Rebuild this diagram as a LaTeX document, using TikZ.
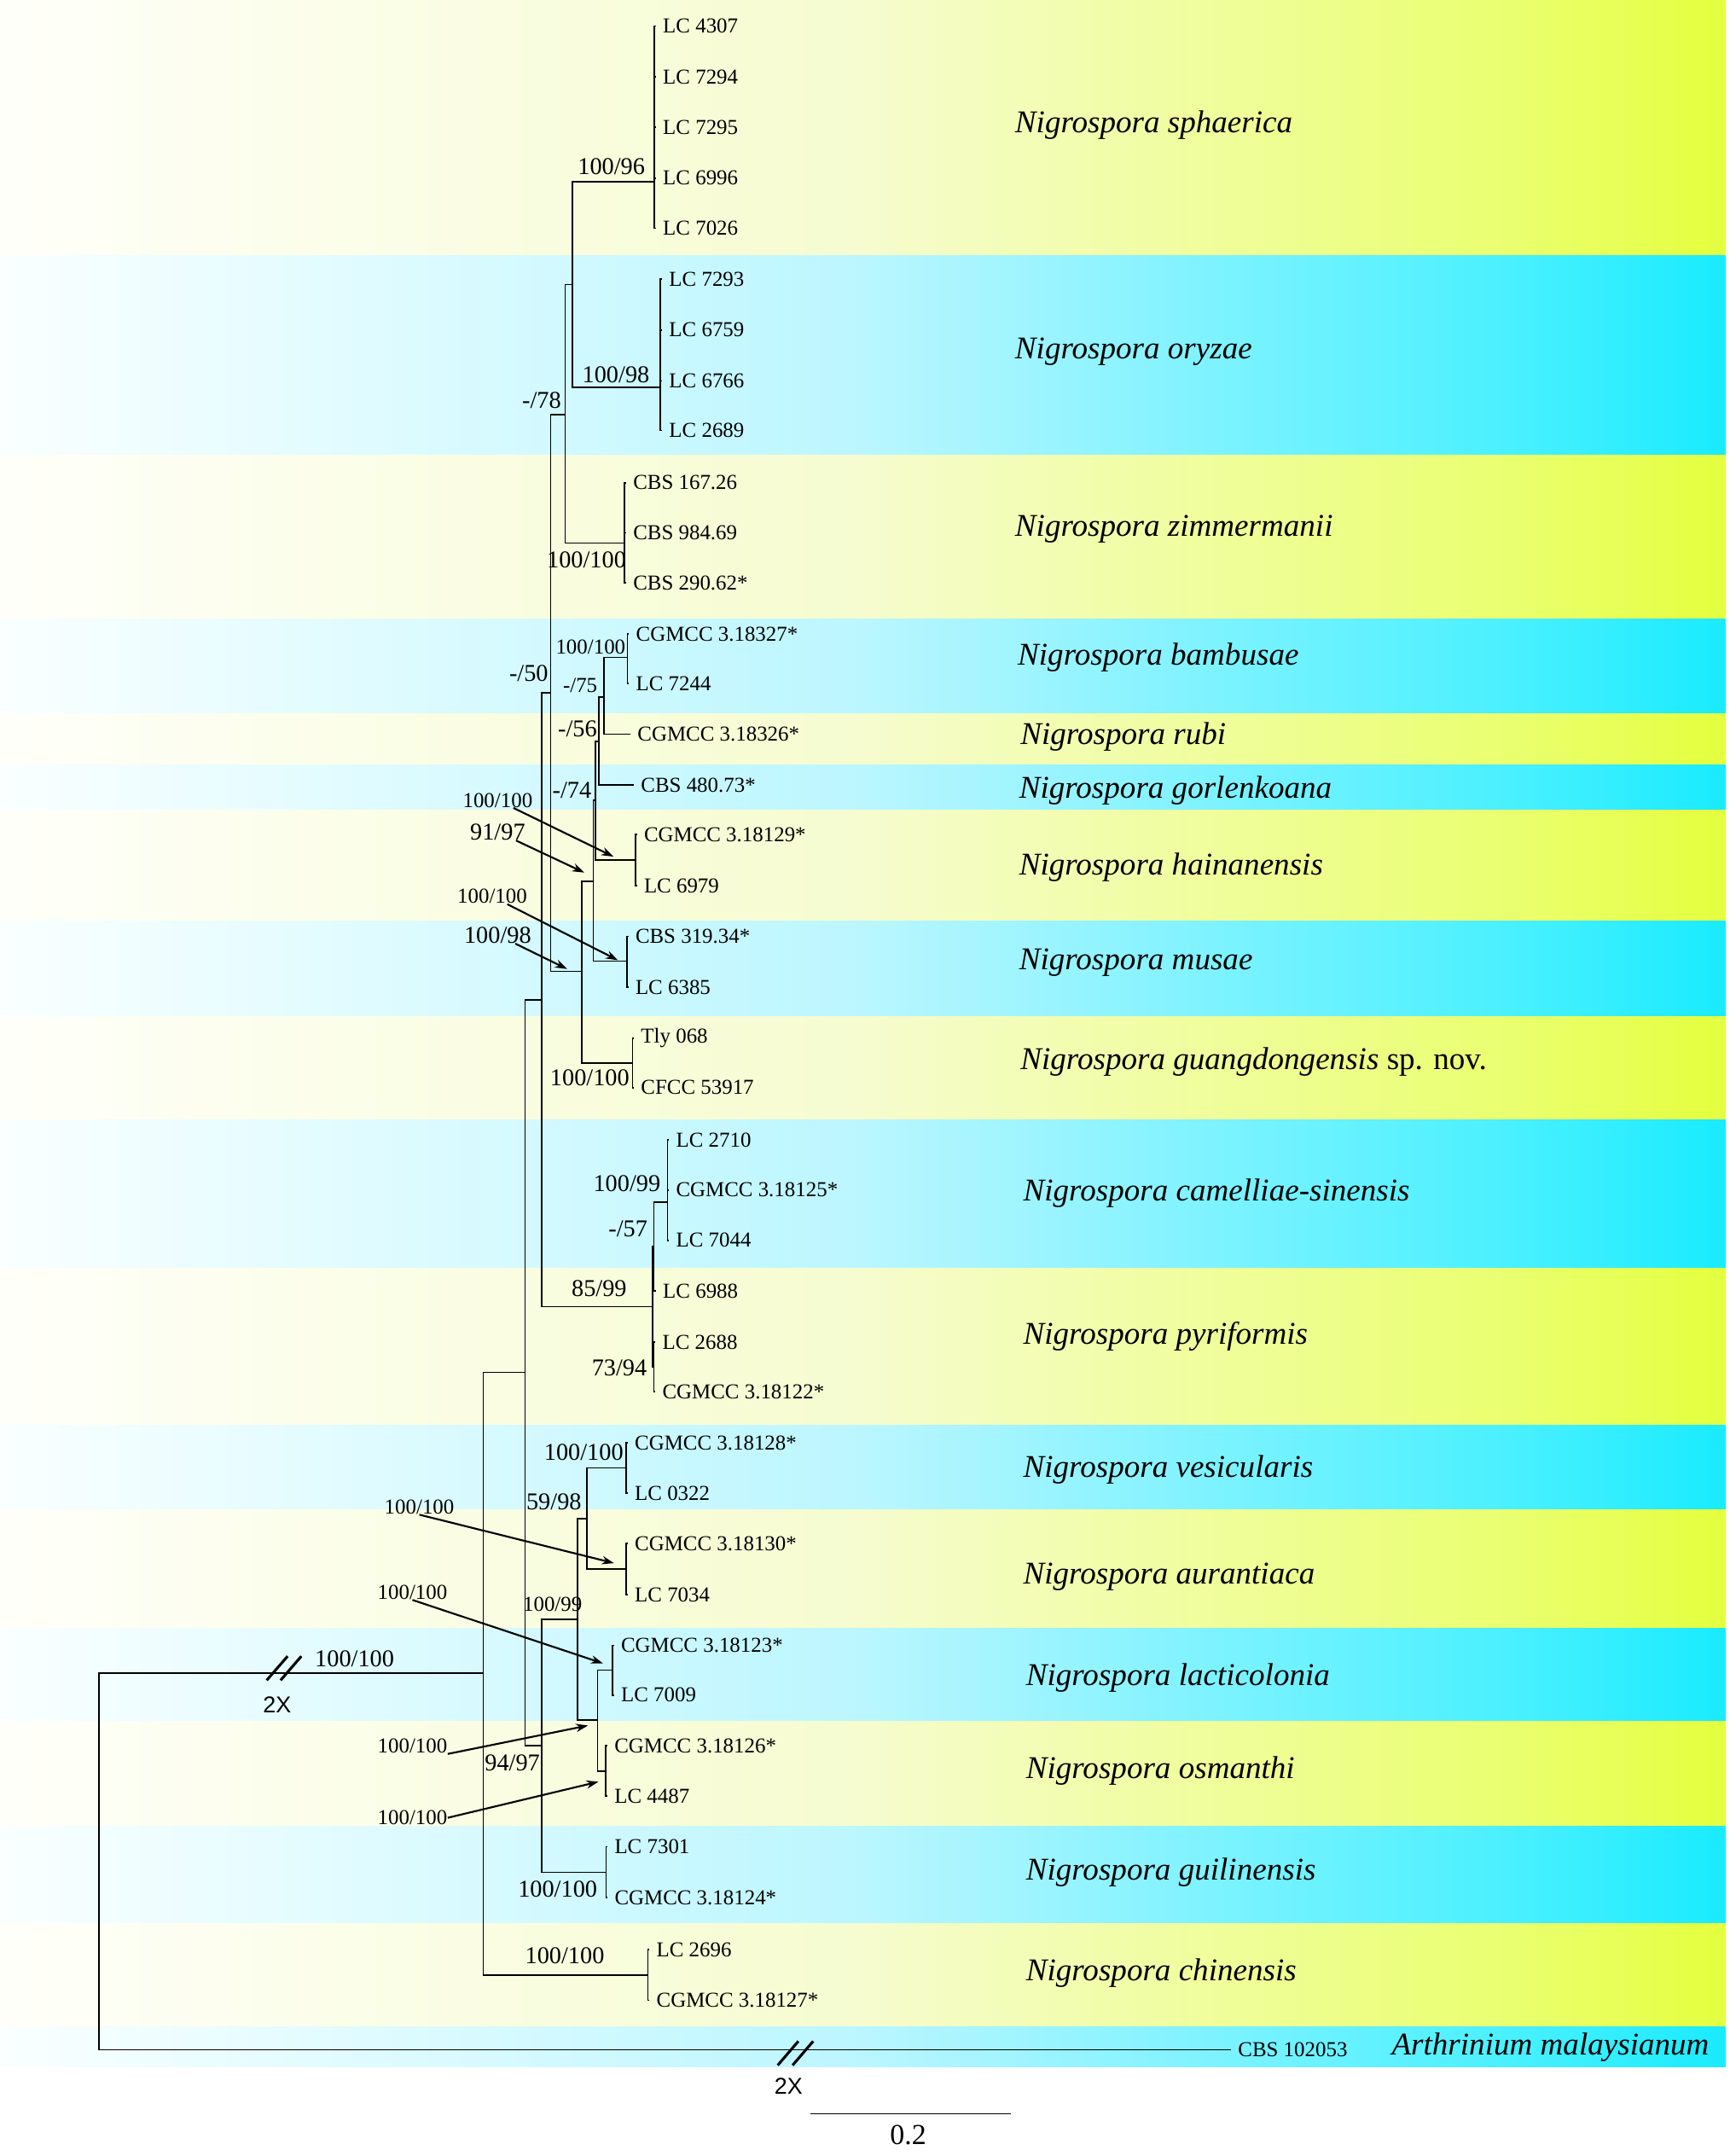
\documentclass[tikz,border=0pt]{standalone}
\usepackage{fontspec}
\setmainfont{Liberation Serif}
\setsansfont{Liberation Sans}
\usetikzlibrary{arrows.meta}
\definecolor{yl0}{RGB}{255,255,250}
\definecolor{yl1}{RGB}{246,252,208}
\definecolor{yl2}{RGB}{234,255,110}
\definecolor{yl3}{RGB}{228,255,62}
\definecolor{cy0}{RGB}{250,255,255}
\definecolor{cy1}{RGB}{188,246,255}
\definecolor{cy2}{RGB}{72,240,255}
\definecolor{cy3}{RGB}{25,235,255}

\begin{document}
\begin{tikzpicture}[x=0.02cm,y=-0.02cm,
    br/.style={line width=0.6pt},
    leaf/.style={anchor=west,inner sep=0pt,outer xsep=3pt,font=\fontsize{8.8}{10}\selectfont},
    taxon/.style={anchor=west,inner sep=0pt,font=\fontsize{13.1}{15}\selectfont\itshape},
    supp/.style={inner sep=0pt,font=\fontsize{10}{12}\selectfont},
    suppsm/.style={inner sep=0pt,font=\fontsize{8.8}{10}\selectfont},
    ptr/.style={line width=0.75pt,-{Stealth[length=5pt,width=3.4pt]}},
    brk/.style={line width=1.1pt},
    times/.style={inner sep=0pt,font=\sffamily\fontsize{9.5}{11}\selectfont}]
  \useasboundingbox (0,0) rectangle (1258,1568);
  \foreach \ya/\yb/\c in {0/186/yl,186/331/cy,331/450.2/yl,450.2/519/cy,519/556/yl,
      556/589/cy,589/670/yl,670/739.3/cy,739.3/814.4/yl,814.4/922.5/cy,922.5/1036.6/yl,
      1036.6/1098/cy,1098/1184.4/yl,1184.4/1252/cy,1252/1328.4/yl,1328.4/1398.8/cy,
      1398.8/1474/yl,1474/1503/cy}{
    \shade[left color=\c0,right color=\c1] (0,\ya) rectangle (620.5,\yb);
    \shade[left color=\c1,right color=\c2] (620,\ya) rectangle (1104.5,\yb);
    \shade[left color=\c2,right color=\c3] (1104,\ya) rectangle (1255,\yb);
  }

  \coordinate (R) at (71.8,1353.8);
  \coordinate (I) at (351.5,1216.8);
  \coordinate (A) at (382,998);
  \coordinate (B) at (394,727.3);
  \coordinate (N50) at (400.5,504);
  \coordinate (N78) at (411,301.5);
  \coordinate (SO) at (416.3,207);
  \coordinate (SPH) at (475.9,132);
  \coordinate (ORY) at (480.3,281.5);
  \coordinate (ZIM) at (454.3,395);
  \coordinate (N98) at (423,706.5);
  \coordinate (N91) at (431.5,640.8);
  \coordinate (N74) at (433.3,582);
  \coordinate (N56) at (435.5,539);
  \coordinate (N75) at (439.4,507);
  \coordinate (BAM) at (456.4,478);
  \coordinate (HAI) at (462.2,625.4);
  \coordinate (MUS) at (456,699);
  \coordinate (GUA) at (460,773);
  \coordinate (N85) at (474.6,950.2);
  \coordinate (N57) at (475.6,906.5);
  \coordinate (CAM) at (485.5,874.3);
  \coordinate (N73) at (475.6,994);
  \coordinate (G94) at (394,1269.5);
  \coordinate (N100) at (420,1177.8);
  \coordinate (N59) at (427,1104.6);
  \coordinate (VES) at (455.5,1067.5);
  \coordinate (AUR) at (455.5,1141);
  \coordinate (LO) at (434.6,1251);
  \coordinate (LAC) at (445.5,1214.6);
  \coordinate (OSM) at (440.7,1288);
  \coordinate (GUI) at (440.8,1361.6);
  \coordinate (CHI) at (471.3,1436.3);

  \foreach \p/\c in {R/I,I/A,I/CHI,A/B,A/G94,B/N50,B/N85,N50/N78,N50/N98,N78/SO,N78/ZIM,
      SO/SPH,SO/ORY,N98/N91,N98/GUA,N91/N74,N91/MUS,N74/N56,N74/HAI,N56/N75,N75/BAM,
      N85/N57,N85/N73,N57/CAM,G94/N100,G94/GUI,N100/N59,N100/LO,N59/VES,N59/AUR,
      LO/LAC,LO/OSM}
    \draw[br] (\p) |- (\c);

  \foreach \p/\x/\n/\y/\t in {SPH/477/a1/19/LC 4307,SPH/477/a2/56/LC 7294,
      SPH/477/a3/92.5/LC 7295,SPH/477/a4/129.5/LC 6996,SPH/477/a5/166/LC 7026,
      ORY/481.5/b1/203/LC 7293,ORY/481.5/b2/240/LC 6759,ORY/481.5/b3/277/LC 6766,
      ORY/481.5/b4/313/LC 2689,ZIM/455.3/c1/351/CBS 167.26,ZIM/455.3/c2/387.5/CBS 984.69,
      ZIM/455.3/c3/424/CBS 290.62*,BAM/457.4/d1/461/CGMCC 3.18327*,BAM/457.4/d2/497/LC 7244,
      N75/458.5/e1/534/CGMCC 3.18326*,N56/461/f1/571/CBS 480.73*,
      HAI/463.2/g1/607/CGMCC 3.18129*,HAI/463.2/g2/644/LC 6979,
      MUS/457/h1/681/CBS 319.34*,MUS/457/h2/718/LC 6385,
      GUA/461/i1/755/Tly 068,GUA/461/i2/791/CFCC 53917,
      CAM/486.5/j1/829/LC 2710,CAM/486.5/j2/865.5/CGMCC 3.18125*,CAM/486.5/j3/902/LC 7044,
      N57/477/k1/939/LC 6988,N73/476.6/k2/976/LC 2688,N73/476.6/k3/1012/CGMCC 3.18122*,
      VES/456.5/m1/1049.3/CGMCC 3.18128*,VES/456.5/m2/1086/LC 0322,
      AUR/456.5/n1/1122.4/CGMCC 3.18130*,AUR/456.5/n2/1159.6/LC 7034,
      LAC/446.5/o1/1196.6/CGMCC 3.18123*,LAC/446.5/o2/1232.7/LC 7009,
      OSM/441.7/p1/1269.7/CGMCC 3.18126*,OSM/441.7/p2/1306.3/LC 4487,
      GUI/441.8/q1/1343/LC 7301,GUI/441.8/q2/1380/CGMCC 3.18124*,
      CHI/472.3/r1/1418/LC 2696,CHI/472.3/r2/1454.7/CGMCC 3.18127*,
      R/895.3/out/1490.7/CBS 102053}{
    \node[leaf] (\n) at (\x,\y) {\t};
    \draw[br] (\p) |- (\n);
  }

  \node[supp] (v1) at (444.7,121.4) {100/96};
  \node[supp] (v2) at (448,272.5) {100/98};
  \node[supp] (v3) at (394,290.9) {-/78};
  \node[supp] (v4) at (426.6,407) {100/100};
  \node[suppsm] (v5) at (429.6,470.6) {100/100};
  \node[suppsm] (v6) at (422,498.8) {-/75};
  \node[supp] (v7) at (420,529.8) {-/56};
  \node[supp] (v8) at (384.6,490) {-/50};
  \node[supp] (v9) at (416,574.9) {-/74};
  \node[supp] (v10) at (429,784) {100/100};
  \node[supp] (v11) at (456,861) {100/99};
  \node[supp] (v12) at (456.8,894) {-/57};
  \node[supp] (v13) at (435.8,937) {85/99};
  \node[supp] (v14) at (450.5,994.6) {73/94};
  \node[supp] (v15) at (424.6,1056.4) {100/100};
  \node[supp] (v16) at (402.9,1092.5) {59/98};
  \node[suppsm] (v17) at (401.9,1166.7) {100/99};
  \node[supp] (v18) at (372.7,1281.9) {94/97};
  \node[supp] (v19) at (405.6,1373.9) {100/100};
  \node[supp] (v20) at (410.8,1422.6) {100/100};
  \node[supp] (v21) at (257.9,1206.6) {100/100};

  \node[suppsm] (s1) at (362,582) {100/100};
  \node[supp] (s2) at (362,605) {91/97};
  \node[suppsm] (s3) at (358,652) {100/100};
  \node[supp] (s4) at (362,680) {100/98};
  \node[suppsm] (s5) at (305,1096) {100/100};
  \node[suppsm] (s6) at (300,1158) {100/100};
  \node[suppsm] (s7) at (300,1270) {100/100};
  \node[suppsm] (s8) at (300,1322) {100/100};
  \coordinate (t1) at (446.2,623);
  \coordinate (t2) at (425,634.6);
  \coordinate (t3) at (449.4,698.3);
  \coordinate (t4) at (412.5,704.7);
  \coordinate (t5) at (446.6,1136.8);
  \coordinate (t6) at (438.6,1209.7);
  \coordinate (t7) at (427.7,1254.9);
  \coordinate (t8) at (435.3,1295.8);
  \draw[ptr] (s1) -- (t1);
  \draw[ptr] (s2) -- (t2);
  \draw[ptr] (s3) -- (t3);
  \draw[ptr] (s4) -- (t4);
  \draw[ptr] (s5.south) -- (t5);
  \draw[ptr] (s6.south) -- (t6);
  \draw[ptr] (s7.south east) -- (t7);
  \draw[ptr] (s8.east) -- (t8);

  \draw[brk] (194,1222) -- (209.2,1204.5) (204.1,1222) -- (219.2,1204.5);
  \node[times] (x1) at (201.6,1239.5) {2X};
  \draw[brk] (565.7,1502) -- (580.7,1484.5) (576.5,1502) -- (591.5,1484.5);
  \node[times] (x2) at (573.6,1517.4) {2X};

  \coordinate (sb1) at (589.7,1537.2);
  \coordinate (sb2) at (735,1537.2);
  \draw[br] (sb1) -- (sb2);
  \node[inner sep=0pt,font=\fontsize{12}{14}\selectfont] (sbl) at (660.6,1553) {0.2};

  \node[taxon] (Tsph) at (738,91) {Nigrospora sphaerica};
  \node[taxon] (Tory) at (738,256) {Nigrospora oryzae};
  \node[taxon] (Tzim) at (738,385) {Nigrospora zimmermanii};
  \node[taxon] (Tbam) at (740,478) {Nigrospora bambusae};
  \node[taxon] (Trub) at (742,536) {Nigrospora rubi};
  \node[taxon] (Tgor) at (741,575) {Nigrospora gorlenkoana};
  \node[taxon] (Thai) at (741,631) {Nigrospora hainanensis};
  \node[taxon] (Tmus) at (741,700) {Nigrospora musae};
  \node[taxon] (Tgua) at (742,772) {Nigrospora guangdongensis \upshape sp. nov.};
  \node[taxon] (Tcam) at (744,868) {Nigrospora camelliae-sinensis};
  \node[taxon] (Tpyr) at (744,972) {Nigrospora pyriformis};
  \node[taxon] (Tves) at (744,1069) {Nigrospora vesicularis};
  \node[taxon] (Taur) at (744,1147) {Nigrospora aurantiaca};
  \node[taxon] (Tlac) at (746,1220) {Nigrospora lacticolonia};
  \node[taxon] (Tosm) at (746,1288) {Nigrospora osmanthi};
  \node[taxon] (Tgui) at (746,1362) {Nigrospora guilinensis};
  \node[taxon] (Tchi) at (746,1435) {Nigrospora chinensis};
  \node[taxon] (Tart) at (1012,1489) {Arthrinium malaysianum};
\end{tikzpicture}
\end{document}
